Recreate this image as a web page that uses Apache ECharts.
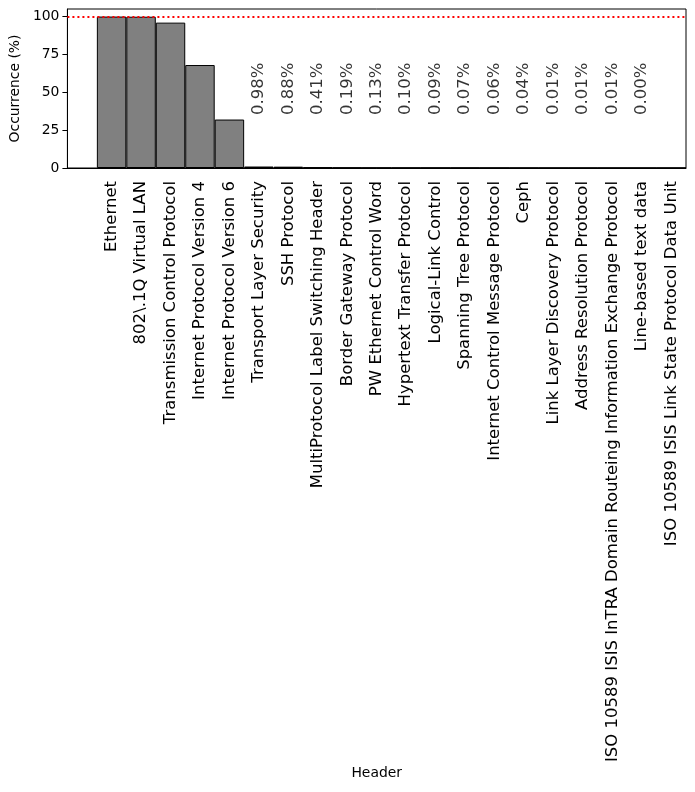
<!DOCTYPE html>
<html>
<head>
<meta charset="utf-8">
<script src="https://cdn.jsdelivr.net/npm/echarts@6/dist/echarts.min.js"></script>
<style>
  html, body { margin: 0; padding: 0; background: #fff; }
  #chart { width: 695px; height: 792px; }
</style>
</head>
<body>
<div id="chart"></div>
<script>
const headers = [
  "Ethernet",
  "802\\.1Q Virtual LAN",
  "Transmission Control Protocol",
  "Internet Protocol Version 4",
  "Internet Protocol Version 6",
  "Transport Layer Security",
  "SSH Protocol",
  "MultiProtocol Label Switching Header",
  "Border Gateway Protocol",
  "PW Ethernet Control Word",
  "Hypertext Transfer Protocol",
  "Logical-Link Control",
  "Spanning Tree Protocol",
  "Internet Control Message Protocol",
  "Ceph",
  "Link Layer Discovery Protocol",
  "Address Resolution Protocol",
  "ISO 10589 ISIS InTRA Domain Routeing Information Exchange Protocol",
  "Line-based text data",
  "ISO 10589 ISIS Link State Protocol Data Unit"
];

const occurrence = [100, 99.9, 96, 68, 32, 0.98, 0.88, 0.41, 0.19, 0.13, 0.10, 0.09, 0.07, 0.06, 0.04, 0.01, 0.01, 0.01, 0.004, 0.002];

const pctLabels = ["", "", "", "", "", "0.98%", "0.88%", "0.41%", "0.19%", "0.13%", "0.10%", "0.09%", "0.07%", "0.06%", "0.04%", "0.01%", "0.01%", "0.01%", "0.00%", ""];

const yTicks = [0, 25, 50, 75, 100];

// matplotlib leaves about one empty slot left of the first bar
const cats = [""].concat(headers);
const barData = ["-"].concat(occurrence);
const labelY = 35;

const font = "DejaVu Sans";
const chart = echarts.init(document.getElementById("chart"), null, { renderer: "canvas" });

chart.setOption({
  animation: false,
  backgroundColor: "#fff",
  textStyle: { fontFamily: font, color: "#000" },
  grid: {
    left: 66, right: 9, top: 9, bottom: 624,
    show: true, borderColor: "#000", borderWidth: 1, backgroundColor: "transparent"
  },
  xAxis: {
    type: "category",
    data: cats,
    boundaryGap: true,
    name: "Header",
    nameLocation: "middle",
    nameGap: 597,
    nameTextStyle: { fontFamily: font, fontSize: 13.9, color: "#000" },
    axisLine: { lineStyle: { color: "#000", width: 1 } },
    axisTick: {
      alignWithLabel: true, length: 5,
      interval: (idx) => idx > 0,
      lineStyle: { color: "#000" }
    },
    axisLabel: {
      interval: 0, rotate: 90, margin: 13,
      fontFamily: font, fontSize: 16.5, color: "#000"
    },
    splitLine: { show: false }
  },
  yAxis: {
    type: "value",
    min: 0,
    max: 105,
    name: "Occurrence (%)",
    nameLocation: "middle",
    nameGap: 40,
    nameTextStyle: { fontFamily: font, fontSize: 13.9, color: "#000" },
    axisLine: { show: true, lineStyle: { color: "#000", width: 1 } },
    axisTick: { show: true, length: 5, customValues: yTicks, lineStyle: { color: "#000" } },
    axisLabel: { customValues: yTicks, fontFamily: font, fontSize: 13.9, color: "#000", margin: 8 },
    splitLine: { show: false }
  },
  series: [
    {
      type: "bar",
      data: barData,
      barWidth: "100%",
      itemStyle: { color: "#808080", borderColor: "#000", borderWidth: 1 },
      markLine: {
        silent: true,
        symbol: "none",
        label: { show: false },
        lineStyle: { color: "#ff0000", type: [2, 3], width: 2 },
        data: [{ yAxis: 100 }]
      }
    },
    {
      type: "scatter",
      data: cats.map((c, i) => ({
        value: [i, i > 0 && pctLabels[i - 1] ? labelY : "-"],
        label: { formatter: i > 0 ? pctLabels[i - 1] : "" }
      })),
      symbolSize: 0,
      silent: true,
      label: {
        show: true,
        position: "inside",
        rotate: 90,
        align: "left",
        verticalAlign: "middle",
        fontFamily: font,
        fontSize: 16.5,
        color: "#000"
      }
    }
  ]
});
</script>
</body>
</html>
